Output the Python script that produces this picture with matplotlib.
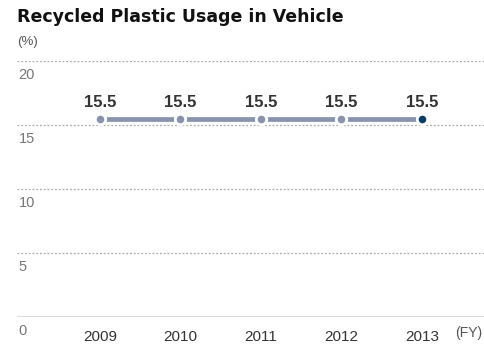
import matplotlib.pyplot as plt

years = [2009, 2010, 2011, 2012, 2013]
values = [15.5, 15.5, 15.5, 15.5, 15.5]
y_ticks = [0, 5, 10, 15, 20]

line_color = "#8a93ad"
last_color = "#0b3c64"
plt.rcParams["font.family"] = ["Liberation Sans", "DejaVu Sans"]

fig = plt.figure(figsize=(4.85, 3.45), dpi=100)
ax = fig.add_axes([17 / 485, 28 / 345, 468 / 485, 256 / 345])

ax.set_xlim(2007.969, 2013.783)
ax.set_ylim(0, 20)

# grid lines
for t in y_ticks[1:]:
    ax.axhline(t, color="#aaaaaa", lw=0.9, ls=(0, (1.5, 1.5)), zorder=1)
ax.axhline(0, color="#444444", lw=1.0, zorder=1)

# data line with white-edged markers
ax.plot(years, values, color=line_color, lw=3.4, zorder=2, solid_capstyle="butt")
ax.plot(years[:-1], values[:-1], "o", color=line_color, ms=7.5,
        mec="white", mew=2.0, zorder=3)
ax.plot(years[-1:], values[-1:], "o", color=last_color, ms=7.5,
        mec="white", mew=2.0, zorder=3)

for x, v in zip(years, values):
    ax.annotate(f"{v}", (x, v), xytext=(0, 6.5), textcoords="offset points",
                ha="center", va="bottom", fontsize=12, fontweight="bold",
                color="#333333")

# y tick labels below grid lines
for t in y_ticks:
    ax.annotate(str(t), (0, t), xycoords=("axes fraction", "data"),
                xytext=(1, -5), textcoords="offset points",
                ha="left", va="top", fontsize=10.5, color="#777777")

for x in years:
    ax.annotate(str(x), (x, 0), xytext=(0, -9.5), textcoords="offset points",
                ha="center", va="top", fontsize=11, color="#333333")
ax.annotate("(FY)", (1, 0), xycoords="axes fraction", xytext=(-2, -6.5),
            textcoords="offset points", ha="right", va="top",
            fontsize=10, color="#555555")

ax.set_xticks([])
ax.set_yticks([])
for s in ax.spines.values():
    s.set_visible(False)

fig.text(17 / 485, 1 - 17 / 345, "Recycled Plastic Usage in Vehicle",
         ha="left", va="center", fontsize=12.5, fontweight="bold",
         color="#111111", family="DejaVu Sans")
fig.text(17 / 485, 1 - 42 / 345, "(%)", ha="left", va="center",
         fontsize=9.5, color="#555555")

fig.savefig("out.png", dpi=100)
